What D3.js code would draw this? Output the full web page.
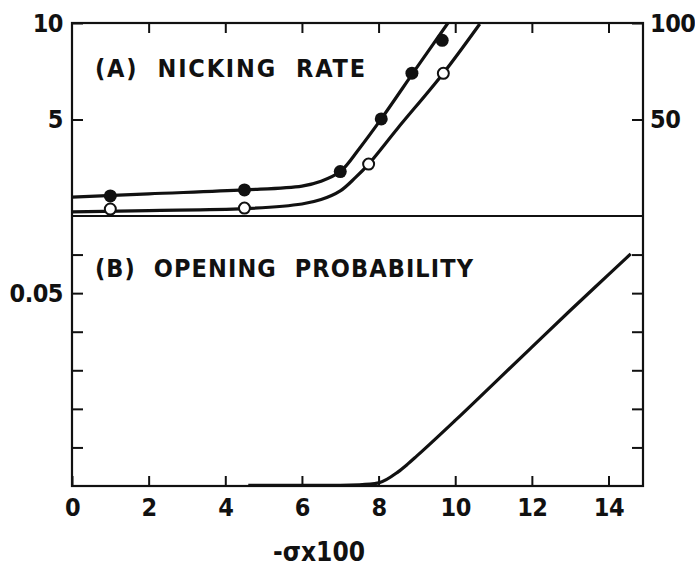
<!DOCTYPE html>
<html>
<head>
<meta charset="utf-8">
<script src="https://cdn.jsdelivr.net/npm/d3@7.9.0/dist/d3.min.js"></script>
<style>
  body { margin: 0; background: #fff; }
  svg text { font-family: "DejaVu Sans Condensed", "DejaVu Sans", sans-serif; font-stretch: condensed; font-weight: bold; fill: #111; }
</style>
</head>
<body>
<svg width="695" height="566"></svg>
<script>
// (A) nicking rate, measured points
const filledX = [1, 4.5, 7, 8.07, 8.87, 9.66];
const filledY = [1.04, 1.35, 2.3, 5.03, 7.4, 9.1];
const openX = [1, 4.5, 7.74, 9.69];
const openY = [0.36, 0.41, 2.69, 7.39];

// (A) fitted curves
const fitFilledX = [0, 2, 4.5, 6, 6.5, 7, 7.5, 8.07, 9, 9.81];
const fitFilledY = [0.98, 1.15, 1.35, 1.55, 1.8, 2.3, 3.5, 5.03, 7.7, 10];
const fitOpenX = [0, 2, 4.5, 6, 6.5, 7, 7.4, 7.74, 8.5, 9.69, 10.64];
const fitOpenY = [0.21, 0.28, 0.38, 0.62, 0.85, 1.3, 2.0, 2.69, 4.55, 7.4, 9.95];

// (B) opening probability
const probX = [4.6, 6, 7, 7.5, 8, 8.5, 8.75, 9, 10, 11, 12, 13, 14, 14.58];
const probY = [0.0002, 0.0002, 0.0002, 0.0003, 0.0008, 0.0036, 0.0056, 0.0078, 0.017, 0.0265, 0.036, 0.0455, 0.0548, 0.0602];

const xTicks = [0, 2, 4, 6, 8, 10, 12, 14];
const leftTicksA = [5, 10];
const rightTicksA = [50, 100];
const ticksB = [0.01, 0.02, 0.03, 0.04, 0.05, 0.06];

const svg = d3.select("svg");
const mLeft = 72, mRight = 643, mTop = 23, mMid = 216, mBottom = 486;

const x = d3.scaleLinear().domain([0, 14.9]).range([mLeft, mRight]);
const yA = d3.scaleLinear().domain([0, 10]).range([mMid, mTop]);
const yA2 = d3.scaleLinear().domain([0, 100]).range([mMid, mTop]);
const yB = d3.scaleLinear().domain([0, 0.07]).range([mBottom, mMid]);

const fontSize = 25;

// axes
function styleAxis(g) {
  g.select(".domain").remove();
  g.selectAll(".tick line").attr("stroke", "#111").attr("stroke-width", 2);
  g.selectAll(".tick text").style("font-size", fontSize + "px").style("letter-spacing", "-0.5px");
  g.attr("font-family", null).attr("font-size", null);
}

svg.append("g").attr("transform", `translate(0,${mTop})`)
  .call(d3.axisBottom(x).tickValues(xTicks.slice(1)).tickSizeInner(10).tickSizeOuter(0).tickFormat(""))
  .call(styleAxis);

svg.append("g").attr("transform", `translate(0,${mBottom})`)
  .call(d3.axisBottom(x).tickValues(xTicks).tickSizeInner(-10).tickSizeOuter(0).tickPadding(12).tickFormat(d3.format("d")))
  .call(styleAxis);

svg.append("g").attr("transform", `translate(${mLeft},0)`)
  .call(d3.axisLeft(yA).tickValues(leftTicksA).tickSizeInner(-11).tickSizeOuter(0).tickPadding(9))
  .call(styleAxis);

svg.append("g").attr("transform", `translate(${mRight},0)`)
  .call(d3.axisRight(yA2).tickValues(rightTicksA).tickSizeInner(-11).tickSizeOuter(0).tickPadding(7))
  .call(styleAxis);

svg.append("g").attr("transform", `translate(${mLeft},0)`)
  .call(d3.axisLeft(yB).tickValues(ticksB).tickSizeInner(-11).tickSizeOuter(0).tickPadding(9)
    .tickFormat(d => Math.abs(d - 0.05) < 1e-9 ? "0.05" : ""))
  .call(styleAxis);

svg.append("g").attr("transform", `translate(${mRight},0)`)
  .call(d3.axisRight(yB).tickValues(ticksB).tickSizeInner(-11).tickSizeOuter(0).tickFormat(""))
  .call(styleAxis);

// frame
const frame = svg.append("g").attr("stroke", "#111").attr("stroke-width", 2.2).attr("fill", "none");
frame.append("rect").attr("x", mLeft).attr("y", mTop).attr("width", mRight - mLeft).attr("height", mBottom - mTop);
frame.append("line").attr("x1", mLeft).attr("x2", mRight).attr("y1", mMid).attr("y2", mMid);

// clip
svg.append("clipPath").attr("id", "clipA").append("rect")
  .attr("x", mLeft).attr("y", mTop).attr("width", mRight - mLeft).attr("height", mMid - mTop);

const lineA = d3.line().x(d => x(d[0])).y(d => yA(d[1])).curve(d3.curveCatmullRom.alpha(0.5));
const lineB = d3.line().x(d => x(d[0])).y(d => yB(d[1])).curve(d3.curveMonotoneX);

const curves = svg.append("g").attr("fill", "none").attr("stroke", "#111").attr("stroke-width", 3.2)
  .attr("stroke-linejoin", "round");
curves.append("path").attr("clip-path", "url(#clipA)").attr("d", lineA(d3.zip(fitFilledX, fitFilledY)));
curves.append("path").attr("clip-path", "url(#clipA)").attr("d", lineA(d3.zip(fitOpenX, fitOpenY)));
curves.append("path").attr("d", lineB(d3.zip(probX, probY)));

// markers
svg.append("g").selectAll("circle").data(d3.zip(filledX, filledY)).join("circle")
  .attr("cx", d => x(d[0])).attr("cy", d => yA(d[1])).attr("r", 6.5).attr("fill", "#111");
svg.append("g").selectAll("circle").data(d3.zip(openX, openY)).join("circle")
  .attr("cx", d => x(d[0])).attr("cy", d => yA(d[1])).attr("r", 5.5)
  .attr("fill", "#fff").attr("stroke", "#111").attr("stroke-width", 2);

// labels
svg.append("text").attr("x", 95).attr("y", 77).style("font-size", "25px")
  .attr("textLength", 270).attr("lengthAdjust", "spacing")
  .attr("xml:space", "preserve").text("(A)  NICKING  RATE");
svg.append("text").attr("x", 95).attr("y", 277).style("font-size", "25px")
  .attr("textLength", 378).attr("lengthAdjust", "spacing")
  .attr("xml:space", "preserve").text("(B)  OPENING  PROBABILITY");
svg.append("text").attr("x", 273).attr("y", 561).style("font-size", "26px")
  .attr("textLength", 92).attr("lengthAdjust", "spacingAndGlyphs").text("-σx100");
</script>
</body>
</html>
